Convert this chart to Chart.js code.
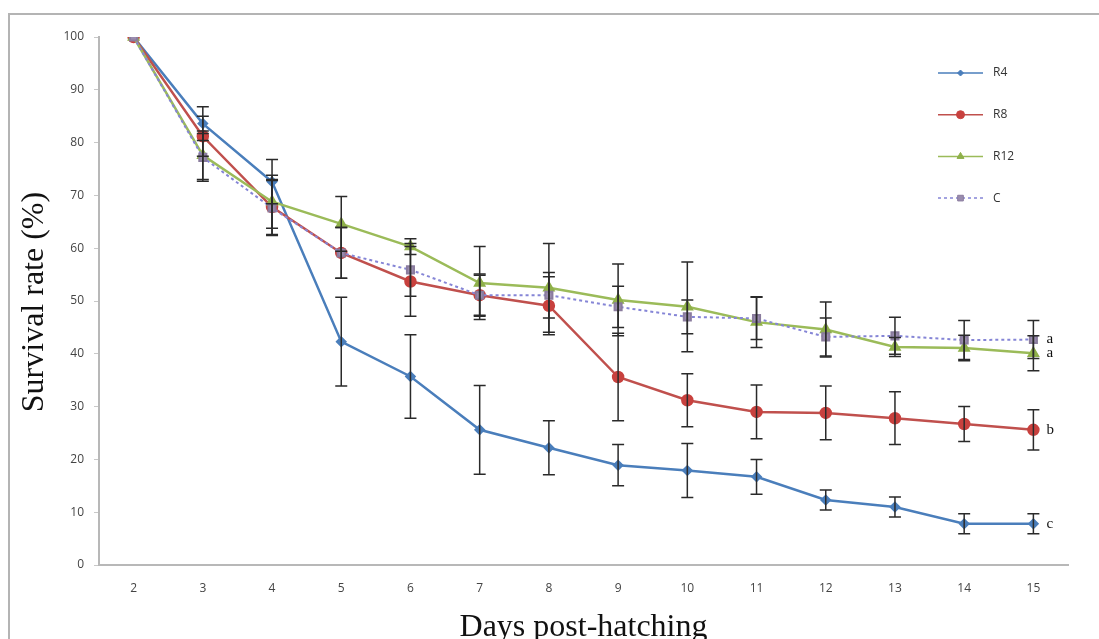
<!DOCTYPE html>
<html>
<head>
<meta charset="utf-8">
<script src="https://cdn.jsdelivr.net/npm/chart.js@4"></script>
<style>
  body { margin: 0; background: #fff; }
  #frame {
    position: absolute; left: 8px; top: 13px;
    width: 1089px; height: 624px;
    border-left: 2px solid #b4b4b4; border-top: 2px solid #b4b4b4;
    overflow: hidden;
  }
</style>
</head>
<body>
<div id="frame"><canvas id="chart" width="1089" height="624"></canvas></div>
<script>
// days post-hatching
const days = ['2', '3', '4', '5', '6', '7', '8', '9', '10', '11', '12', '13', '14', '15']

// survival rate (%) per treatment, with +/- error
const r4 = [100, 83.6, 72.6, 42.3, 35.7, 25.6, 22.2, 18.9, 17.9, 16.7, 12.3, 11.0, 7.8, 7.8]
const r4Err = [0, 3.2, 4.2, 8.4, 7.9, 8.4, 5.1, 3.9, 5.1, 3.3, 1.9, 1.9, 1.9, 1.9]
const r8 = [100, 81.2, 67.8, 59.1, 53.7, 51.1, 49.1, 35.6, 31.2, 29.0, 28.8, 27.8, 26.7, 25.6]
const r8Err = [0, 3.8, 5.2, 4.8, 6.6, 4.0, 5.5, 8.3, 5.0, 5.1, 5.1, 5.0, 3.3, 3.8]
const r12 = [100, 77.6, 68.8, 64.6, 60.3, 53.4, 52.5, 50.2, 48.9, 46.0, 44.6, 41.3, 41.1, 40.1]
const r12Err = [0, 4.6, 5.0, 5.2, 1.5, 6.9, 8.4, 6.8, 8.5, 4.8, 5.2, 1.8, 2.4, 3.3]
const ctrl = [100, 77.2, 67.6, 59.1, 55.9, 51.1, 51.1, 48.9, 47.0, 46.7, 43.2, 43.4, 42.6, 42.7]
const ctrlErr = [0, 4.5, 5.2, 4.8, 5.0, 3.8, 4.3, 3.9, 3.2, 4.0, 3.6, 3.5, 3.7, 3.6]

// significance letters next to the last point of each series
const letters = ['c', 'b', 'a', 'a']

const errors = [r4Err, r8Err, r12Err, ctrlErr]

const overlay = {
  id: 'overlay',
  afterDatasetsDraw(chart) {
    const { ctx, scales: { x, y } } = chart
    ctx.save()

    // Error bars with caps
    ctx.strokeStyle = '#2a2a2a'
    ctx.lineWidth = 1.5
    chart.data.datasets.forEach((ds, i) => {
      ds.data.forEach((v, j) => {
        const e = errors[i][j]
        if (!e) return
        const px = x.getPixelForValue(j)
        const top = y.getPixelForValue(v + e)
        const bot = y.getPixelForValue(v - e)
        ctx.beginPath()
        ctx.moveTo(px, top); ctx.lineTo(px, bot)
        ctx.moveTo(px - 6, top); ctx.lineTo(px + 6, top)
        ctx.moveTo(px - 6, bot); ctx.lineTo(px + 6, bot)
        ctx.stroke()
      })
    })

    // Letters at the end of each line
    ctx.fillStyle = '#111'
    ctx.font = '15px "Liberation Serif"'
    ctx.textBaseline = 'middle'
    ctx.textAlign = 'left'
    const last = days.length - 1
    chart.data.datasets.forEach((ds, i) => {
      ctx.fillText(letters[i], x.getPixelForValue(last) + 13, y.getPixelForValue(ds.data[last]))
    })

    // Legend, top right inside the plot
    const lx = chart.chartArea.right - 130
    chart.data.datasets.forEach((ds, i) => {
      const ly = chart.chartArea.top + 36 + i * 41.7
      ctx.strokeStyle = ds.borderColor
      ctx.lineWidth = 1.5
      ctx.setLineDash(ds.borderDash || [])
      ctx.beginPath()
      ctx.moveTo(lx, ly); ctx.lineTo(lx + 45, ly)
      ctx.stroke()
      ctx.setLineDash([])
      ctx.fillStyle = ds.pointBackgroundColor
      ctx.strokeStyle = ds.pointBorderColor
      ctx.lineWidth = 1
      Chart.helpers.drawPoint(ctx, {
        pointStyle: ds.pointStyle,
        radius: ds.pointRadius - 1,
        borderWidth: 1,
        rotation: 0,
      }, lx + 22.5, ly)
      ctx.fillStyle = '#333'
      ctx.font = '12px "Open Sans"'
      ctx.fillText(ds.label, lx + 55, ly)
    })

    ctx.restore()
  },
  afterDraw(chart) {
    const { ctx, chartArea } = chart
    ctx.save()
    ctx.fillStyle = '#111'
    ctx.font = '32px "Liberation Serif"'
    ctx.textAlign = 'center'
    ctx.textBaseline = 'middle'
    ctx.fillText('Days post-hatching', (chartArea.left + chartArea.right) / 2, chartArea.bottom + 63)
    ctx.translate(25, (chartArea.top + chartArea.bottom) / 2 + 1)
    ctx.rotate(-Math.PI / 2)
    ctx.fillText('Survival rate (%)', 0, 0)
    ctx.restore()
  },
}

new Chart(document.getElementById('chart'), {
  type: 'line',
  data: {
    labels: days,
    datasets: [
      {
        label: 'R4', data: r4, order: 3,
        borderColor: '#4a7ebb', borderWidth: 2.5,
        pointStyle: 'rectRot', pointRadius: 4,
        pointBackgroundColor: '#4a7ebb', pointBorderColor: '#4a7ebb',
      },
      {
        label: 'R8', data: r8, order: 2,
        borderColor: '#c0504d', borderWidth: 2.5,
        pointStyle: 'circle', pointRadius: 5,
        pointBackgroundColor: '#c8413e', pointBorderColor: '#c8413e',
      },
      {
        label: 'R12', data: r12, order: 1,
        borderColor: '#9bbb59', borderWidth: 2.5,
        pointStyle: 'triangle', pointRadius: 5,
        pointBackgroundColor: '#8fb04a', pointBorderColor: '#8fb04a',
      },
      {
        label: 'C', data: ctrl, order: 0,
        borderColor: '#8585d6', borderWidth: 2, borderDash: [3, 3],
        pointStyle: 'rect', pointRadius: 5,
        pointBackgroundColor: '#9a8cae', pointBorderColor: '#8a7c9e',
      },
    ],
  },
  options: {
    responsive: false,
    animation: false,
    devicePixelRatio: 1,
    layout: { padding: { top: 22, right: 31, left: 0, bottom: 0 } },
    plugins: {
      legend: { display: false },
      tooltip: { enabled: false },
    },
    scales: {
      x: {
        offset: true,
        afterFit: (s) => { s.height = 74 },
        grid: { display: true, drawOnChartArea: false, drawTicks: false },
        border: { display: true, color: '#b8b8b8', width: 2 },
        ticks: { padding: 16, color: '#444', font: { family: 'Open Sans', size: 12 } },
      },
      y: {
        min: 0, max: 100,
        afterFit: (s) => { s.width = 89 },
        grid: { drawOnChartArea: false, tickLength: 5, color: '#c8c8c8' },
        border: { display: true, color: '#b8b8b8', width: 2 },
        ticks: { stepSize: 10, padding: 10, color: '#444', font: { family: 'Open Sans', size: 12 } },
      },
    },
  },
  plugins: [overlay],
})
</script>
</body>
</html>
